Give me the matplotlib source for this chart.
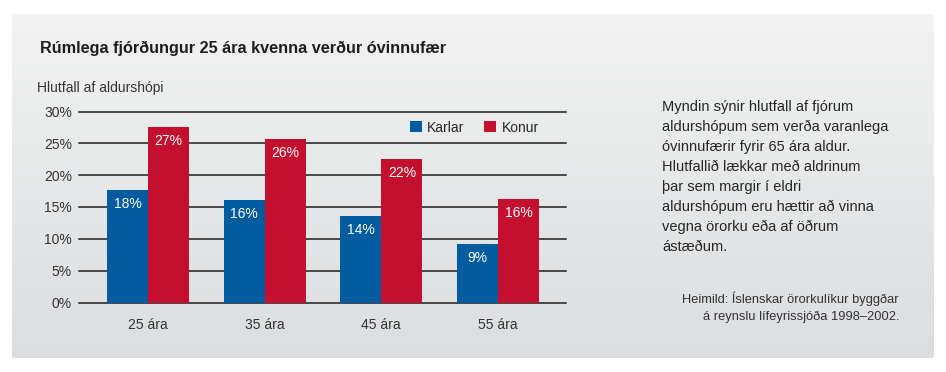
"""Rúmlega fjórðungur 25 ára kvenna verður óvinnufær - grouped bar chart."""

import numpy as np
import matplotlib
matplotlib.use("Agg")
import matplotlib.pyplot as plt
from matplotlib.colors import LinearSegmentedColormap

plt.rcParams["font.family"] = ["Liberation Sans", "DejaVu Sans"]

W, H = 946, 372

categories = ["25 ára", "35 ára", "45 ára", "55 ára"]
karlar = [17.6, 16.1, 13.6, 9.2]
konur = [27.6, 25.7, 22.5, 16.2]
karlar_labels = ["18%", "16%", "14%", "9%"]
konur_labels = ["27%", "26%", "22%", "16%"]
yticks = [0, 5, 10, 15, 20, 25, 30]

BLUE = "#005b9f"
RED = "#c4102e"
TXT = "#262626"

desc = ["Myndin sýnir hlutfall af fjórum",
        "aldurshópum sem verða varanlega",
        "óvinnufærir fyrir 65 ára aldur.",
        "Hlutfallið lækkar með aldrinum",
        "þar sem margir í eldri",
        "aldurshópum eru hættir að vinna",
        "vegna örorku eða af öðrum",
        "ástæðum."]
source = ["Heimild: Íslenskar örorkulíkur byggðar",
          "á reynslu lífeyrissjóða 1998–2002."]


def main():
    fig = plt.figure(figsize=(W / 100, H / 100), dpi=100)
    fig.patch.set_facecolor("white")

    # grey gradient panel behind everything
    bg = fig.add_axes([12 / W, 1 - 358 / H, (933 - 12) / W, (358 - 14) / H], zorder=-5)
    cmap = LinearSegmentedColormap.from_list("bg", ["#f1f2f1", "#dcdde0"])
    bg.imshow(np.linspace(0, 1, 256).reshape(-1, 1), aspect="auto", cmap=cmap,
              extent=[0, 1, 0, 1])
    bg.axis("off")

    ax = fig.add_axes([79 / W, 1 - 302.5 / H, (566 - 79) / W, 191 / H])
    ax.patch.set_alpha(0)

    x = np.arange(len(categories))
    bw = 0.352
    b1 = ax.bar(x - bw / 2, karlar, bw, color=BLUE, label="Karlar", zorder=3)
    b2 = ax.bar(x + bw / 2, konur, bw, color=RED, label="Konur", zorder=3)

    for bars, labels in ((b1, karlar_labels), (b2, konur_labels)):
        for rect, lab in zip(bars, labels):
            ax.annotate(lab, (rect.get_x() + rect.get_width() / 2, rect.get_height()),
                        xytext=(0, -10), textcoords="offset points",
                        ha="center", va="center", color="white", fontsize=10, zorder=4)

    for y in yticks:
        ax.axhline(y, color="#1e1e1e", lw=1.1, zorder=1, clip_on=False)

    ax.set_xlim(-0.591, 3.583)
    ax.set_ylim(0, 30)
    ax.set_yticks(yticks)
    ax.set_yticklabels([f"{v}%" for v in yticks])
    ax.set_xticks(x)
    ax.set_xticklabels(categories)
    ax.tick_params(axis="y", length=0, pad=5, labelsize=10, labelcolor="#333333")
    ax.tick_params(axis="x", length=0, pad=11, labelsize=10, labelcolor="#333333")
    for s in ax.spines.values():
        s.set_visible(False)

    ax.legend(ncol=2, frameon=False, loc="center left",
              bbox_to_anchor=(410 / W, 1 - 127.5 / H), bbox_transform=fig.transFigure,
              fontsize=10, handlelength=0.85, handleheight=0.8, handletextpad=0.4,
              columnspacing=1.4, borderpad=0, borderaxespad=0,
              labelcolor="#262626")

    fig.text(40 / W, 1 - 48 / H, "Rúmlega fjórðungur 25 ára kvenna verður óvinnufær",
             fontsize=11.7, fontweight="bold", color="#1e1e1e", va="center", ha="left")
    fig.text(37 / W, 1 - 88 / H, "Hlutfall af aldurshópi", fontsize=10,
             color="#333333", va="center", ha="left")

    # paragraph on the right, one line every 20 px
    for i, line in enumerate(desc):
        fig.text(662 / W, 1 - (107 + 20 * i) / H, line, fontsize=10.5, color=TXT,
                 va="center", ha="left")
    for i, line in enumerate(source):
        fig.text(899 / W, 1 - (299 + 18 * i) / H, line, fontsize=9.3,
                 color="#333333", va="center", ha="right")

    fig.savefig("out.png", dpi=100)
    plt.close(fig)


if __name__ == "__main__":
    main()
